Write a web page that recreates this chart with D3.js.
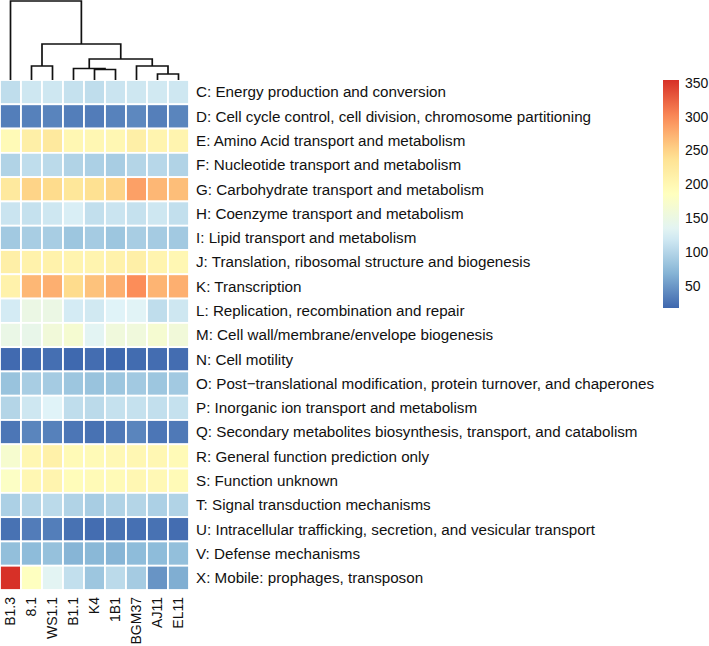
<!DOCTYPE html>
<html>
<head>
<meta charset="utf-8">
<script src="https://cdn.jsdelivr.net/npm/d3@7/dist/d3.min.js"></script>
<style>
  html, body { margin: 0; padding: 0; background: #fff; }
  svg { display: block; font-family: Helvetica, Arial, "Liberation Sans", sans-serif; }
</style>
</head>
<body>
<svg id="chart" width="709" height="646"></svg>
<script>
// ---- data ----
const samples = ["B1.3", "8.1", "WS1.1", "B1.1", "K4", "1B1", "BGM37", "AJ11", "EL11"];
const categories = [
  "C: Energy production and conversion",
  "D: Cell cycle control, cell division, chromosome partitioning",
  "E: Amino Acid transport and metabolism",
  "F: Nucleotide transport and metabolism",
  "G: Carbohydrate transport and metabolism",
  "H: Coenzyme transport and metabolism",
  "I: Lipid transport and metabolism",
  "J: Translation, ribosomal structure and biogenesis",
  "K: Transcription",
  "L: Replication, recombination and repair",
  "M: Cell wall/membrane/envelope biogenesis",
  "N: Cell motility",
  "O: Post\u2212translational modification, protein turnover, and chaperones",
  "P: Inorganic ion transport and metabolism",
  "Q: Secondary metabolites biosynthesis, transport, and catabolism",
  "R: General function prediction only",
  "S: Function unknown",
  "T: Signal transduction mechanisms",
  "U: Intracellular trafficking, secretion, and vesicular transport",
  "V: Defense mechanisms",
  "X: Mobile: prophages, transposon"
];
const rowC = [108, 118, 118, 112, 108, 115, 118, 120, 118];
const rowD = [33, 35, 37, 33, 32, 36, 40, 34, 38];
const rowE = [195, 215, 225, 200, 200, 200, 215, 205, 205];
const rowF = [98, 108, 105, 98, 95, 92, 100, 102, 98];
const rowG = [225, 250, 245, 230, 240, 250, 285, 270, 265];
const rowH = [115, 112, 118, 125, 110, 115, 112, 118, 110];
const rowI = [88, 92, 92, 85, 90, 85, 92, 90, 88];
const rowJ = [215, 210, 210, 205, 205, 210, 215, 205, 200];
const rowK = [210, 270, 275, 245, 262, 275, 298, 272, 275];
const rowL = [122, 150, 150, 122, 120, 130, 132, 108, 118];
const rowM = [148, 145, 160, 168, 135, 158, 158, 168, 160];
const rowN = [20, 21, 23, 19, 22, 19, 21, 22, 22];
const rowO = [82, 92, 90, 85, 82, 85, 88, 85, 88];
const rowP = [100, 118, 130, 108, 105, 112, 112, 110, 112];
const rowQ = [28, 38, 35, 28, 25, 30, 38, 28, 30];
const rowR = [170, 200, 212, 195, 195, 198, 200, 200, 195];
const rowS = [180, 200, 205, 192, 195, 195, 200, 198, 195];
const rowT = [95, 100, 105, 98, 92, 98, 100, 95, 98];
const rowU = [25, 32, 33, 25, 22, 25, 24, 25, 22];
const rowV = [78, 75, 80, 70, 72, 70, 75, 75, 78];
const rowX = [354, 185, 135, 110, 85, 105, 90, 48, 65];
const values = [rowC, rowD, rowE, rowF, rowG, rowH, rowI, rowJ, rowK, rowL, rowM,
                rowN, rowO, rowP, rowQ, rowR, rowS, rowT, rowU, rowV, rowX];
const legendTicks = [50, 100, 150, 200, 250, 300, 350];
const palette = ["#3E67AE", "#8DBBD9", "#E0F3F8", "#FFFFBF", "#FEE090", "#FC8D59", "#D73027"];
// column dendrogram (merge heights in arbitrary distance units)
const dendro = {h: 79, children: [
  {name: "B1.3"},
  {h: 36, children: [
    {h: 14, children: [{name: "8.1"}, {name: "WS1.1"}]},
    {h: 21, children: [
      {h: 11.5, children: [{name: "B1.1"}, {h: 10.5, children: [{name: "K4"}, {name: "1B1"}]}]},
      {h: 14, children: [{name: "BGM37"}, {h: 6, children: [{name: "AJ11"}, {name: "EL11"}]}]}
    ]}
  ]}
]};

// ---- drawing ----
const svg = d3.select("#chart");
const heatTop = 80, heatBottom = 590, heatLeft = 0, heatRight = 189;

const x = d3.scaleBand().domain(samples).range([heatLeft, heatRight]);
const y = d3.scaleBand().domain(categories).range([heatTop, heatBottom]);

const allVals = values.flat();
const vmin = d3.min(allVals) - 1, vmax = d3.max(allVals);
const color = d3.scaleLinear()
  .domain(d3.range(palette.length).map(i => vmin + (vmax - vmin) * i / (palette.length - 1)))
  .range(palette)
  .interpolate(d3.interpolateRgb);

// cells
const cells = [];
values.forEach((row, ri) => row.forEach((v, ci) => cells.push({r: categories[ri], c: samples[ci], v})));
svg.append("g").selectAll("rect").data(cells).join("rect")
  .attr("x", d => x(d.c))
  .attr("y", d => y(d.r))
  .attr("width", x.bandwidth())
  .attr("height", y.bandwidth())
  .attr("fill", d => color(d.v))
  .attr("stroke", "#fff")
  .attr("stroke-width", 1.8);

// row labels
svg.append("g").selectAll("text").data(categories).join("text")
  .attr("x", heatRight + 7)
  .attr("y", d => y(d) + y.bandwidth() / 2)
  .attr("dy", "0.35em")
  .attr("font-size", 15.2)
  .attr("fill", "#111")
  .text(d => d);

// column labels
svg.append("g").selectAll("text").data(samples).join("text")
  .attr("transform", d => `translate(${x(d) + x.bandwidth() / 2},${heatBottom + 7}) rotate(-90)`)
  .attr("dy", "0.35em")
  .attr("text-anchor", "end")
  .attr("font-size", 14)
  .attr("fill", "#111")
  .text(d => d);

// dendrogram
const root = d3.hierarchy(dendro);
const hy = d3.scaleLinear().domain([0, root.data.h]).range([heatTop, 1]);
root.eachAfter(n => {
  if (!n.children) { n.px = x(n.data.name) + x.bandwidth() / 2; n.py = hy(0); }
  else {
    n.px = (n.children[0].px + n.children[n.children.length - 1].px) / 2;
    n.py = hy(n.data.h);
  }
});
const dg = svg.append("g").attr("fill", "none").attr("stroke", "#111").attr("stroke-width", 1.7);
root.descendants().filter(n => n.children).forEach(n => {
  const [a, b] = [n.children[0], n.children[n.children.length - 1]];
  dg.append("path").attr("d",
    `M${a.px},${a.py}V${n.py}H${b.px}V${b.py}`);
});

// legend
const legTop = 80, legBottom = 308, legX = 663, legW = 16;
const ly = d3.scaleLinear().domain([vmin, vmax]).range([legBottom, legTop]);
const grad = svg.append("defs").append("linearGradient")
  .attr("id", "lg").attr("x1", 0).attr("y1", 1).attr("x2", 0).attr("y2", 0);
d3.range(0, 1.0001, 0.05).forEach(t => {
  grad.append("stop").attr("offset", t).attr("stop-color", color(vmin + t * (vmax - vmin)));
});
svg.append("rect").attr("x", legX).attr("y", legTop).attr("width", legW)
  .attr("height", legBottom - legTop).attr("fill", "url(#lg)");
svg.append("g").selectAll("text").data(legendTicks).join("text")
  .attr("x", legX + legW + 6)
  .attr("y", d => ly(d))
  .attr("dy", "0.35em")
  .attr("font-size", 14)
  .attr("fill", "#111")
  .text(d => d);
</script>
</body>
</html>
